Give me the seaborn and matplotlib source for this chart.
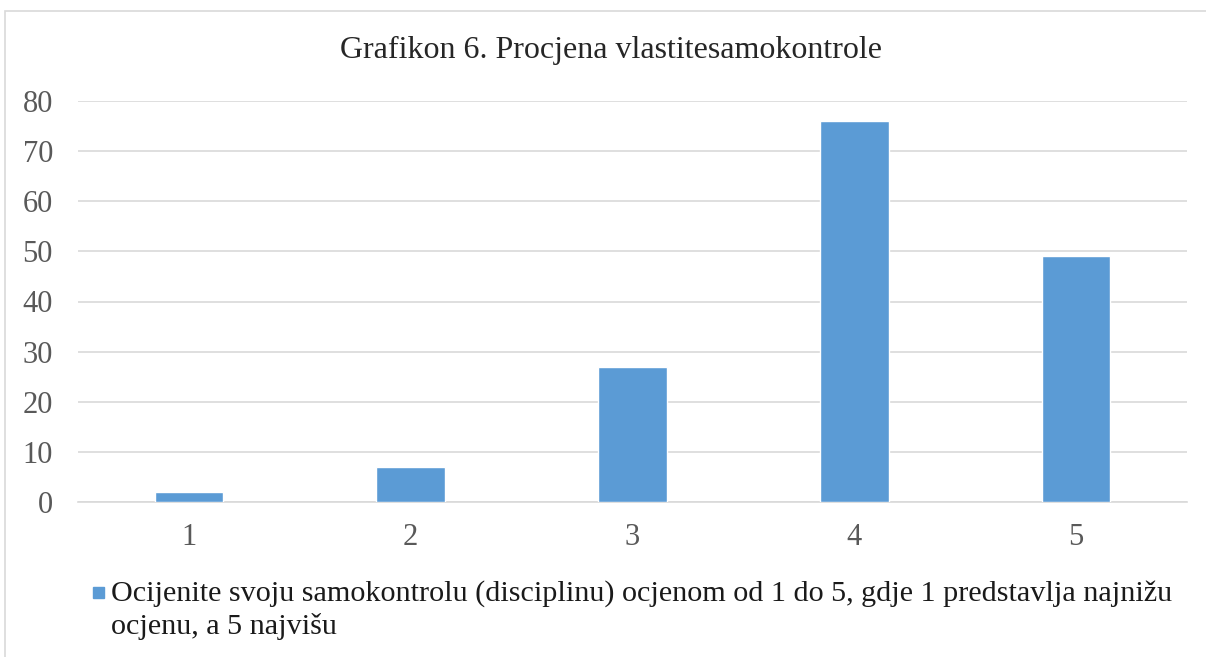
import matplotlib
matplotlib.use("Agg")
import matplotlib.pyplot as plt
import matplotlib.patches as mpatches
import pandas as pd
import seaborn as sns

# podaci
ocjene = ["1", "2", "3", "4", "5"]
broj = [2, 7, 27, 76, 49]
serija = ["Ocijenite svoju samokontrolu (disciplinu) ocjenom od 1 do 5, gdje 1 predstavlja najnižu",
          "ocjenu, a 5 najvišu"]
naslov = "Grafikon 6. Procjena vlastitesamokontrole"

df = pd.DataFrame({"ocjena": ocjene, "broj": broj})

sns.set_theme(style="white")
plt.rcParams["font.family"] = ["Liberation Serif", "DejaVu Serif"]

fig = plt.figure(figsize=(12.06, 6.57), dpi=100)
ax = fig.add_axes([78 / 1206, 1 - 502 / 657, (1187 - 78) / 1206, (502 - 101) / 657])

sns.barplot(data=df, x="ocjena", y="broj", color="#5B9BD5", width=0.31,
            saturation=1, ax=ax, zorder=3)

ax.set_ylim(0, 80)
ax.set_xlim(-0.5, 4.5)
ax.set_yticks(range(0, 81, 10))
ax.yaxis.grid(True, color="#D9D9D9", linewidth=1.2, zorder=0)
ax.set_axisbelow(True)
for s in ["top", "right", "left"]:
    ax.spines[s].set_visible(False)
ax.spines["bottom"].set_color("#D9D9D9")
ax.spines["bottom"].set_linewidth(1.2)
ax.tick_params(axis="both", length=0, labelsize=22, labelcolor="#595959")
ax.tick_params(axis="y", pad=18)
ax.tick_params(axis="x", pad=15)
ax.set_xlabel("")
ax.set_ylabel("")

fig.text(611 / 1206, 1 - 50 / 657, naslov, ha="center", va="center",
         fontsize=23, color="#262626")

# legenda
fig.patches.append(mpatches.Rectangle((93 / 1206, 1 - 598 / 657), 11 / 1206, 11 / 657,
                                      transform=fig.transFigure, color="#5B9BD5"))
fig.text(111 / 1206, 1 - 594 / 657, serija[0], ha="left", va="center",
         fontsize=21.7, color="#1a1a1a")
fig.text(111 / 1206, 1 - 627 / 657, serija[1], ha="left", va="center",
         fontsize=21.7, color="#1a1a1a")

# okvir grafikona
fig.patches.append(mpatches.Rectangle((5 / 1206, -0.05), 1.2, 1.05 - 11 / 657,
                                      transform=fig.transFigure, fill=False,
                                      edgecolor="#D9D9D9", linewidth=1.2))

fig.savefig("out.png", dpi=100)
